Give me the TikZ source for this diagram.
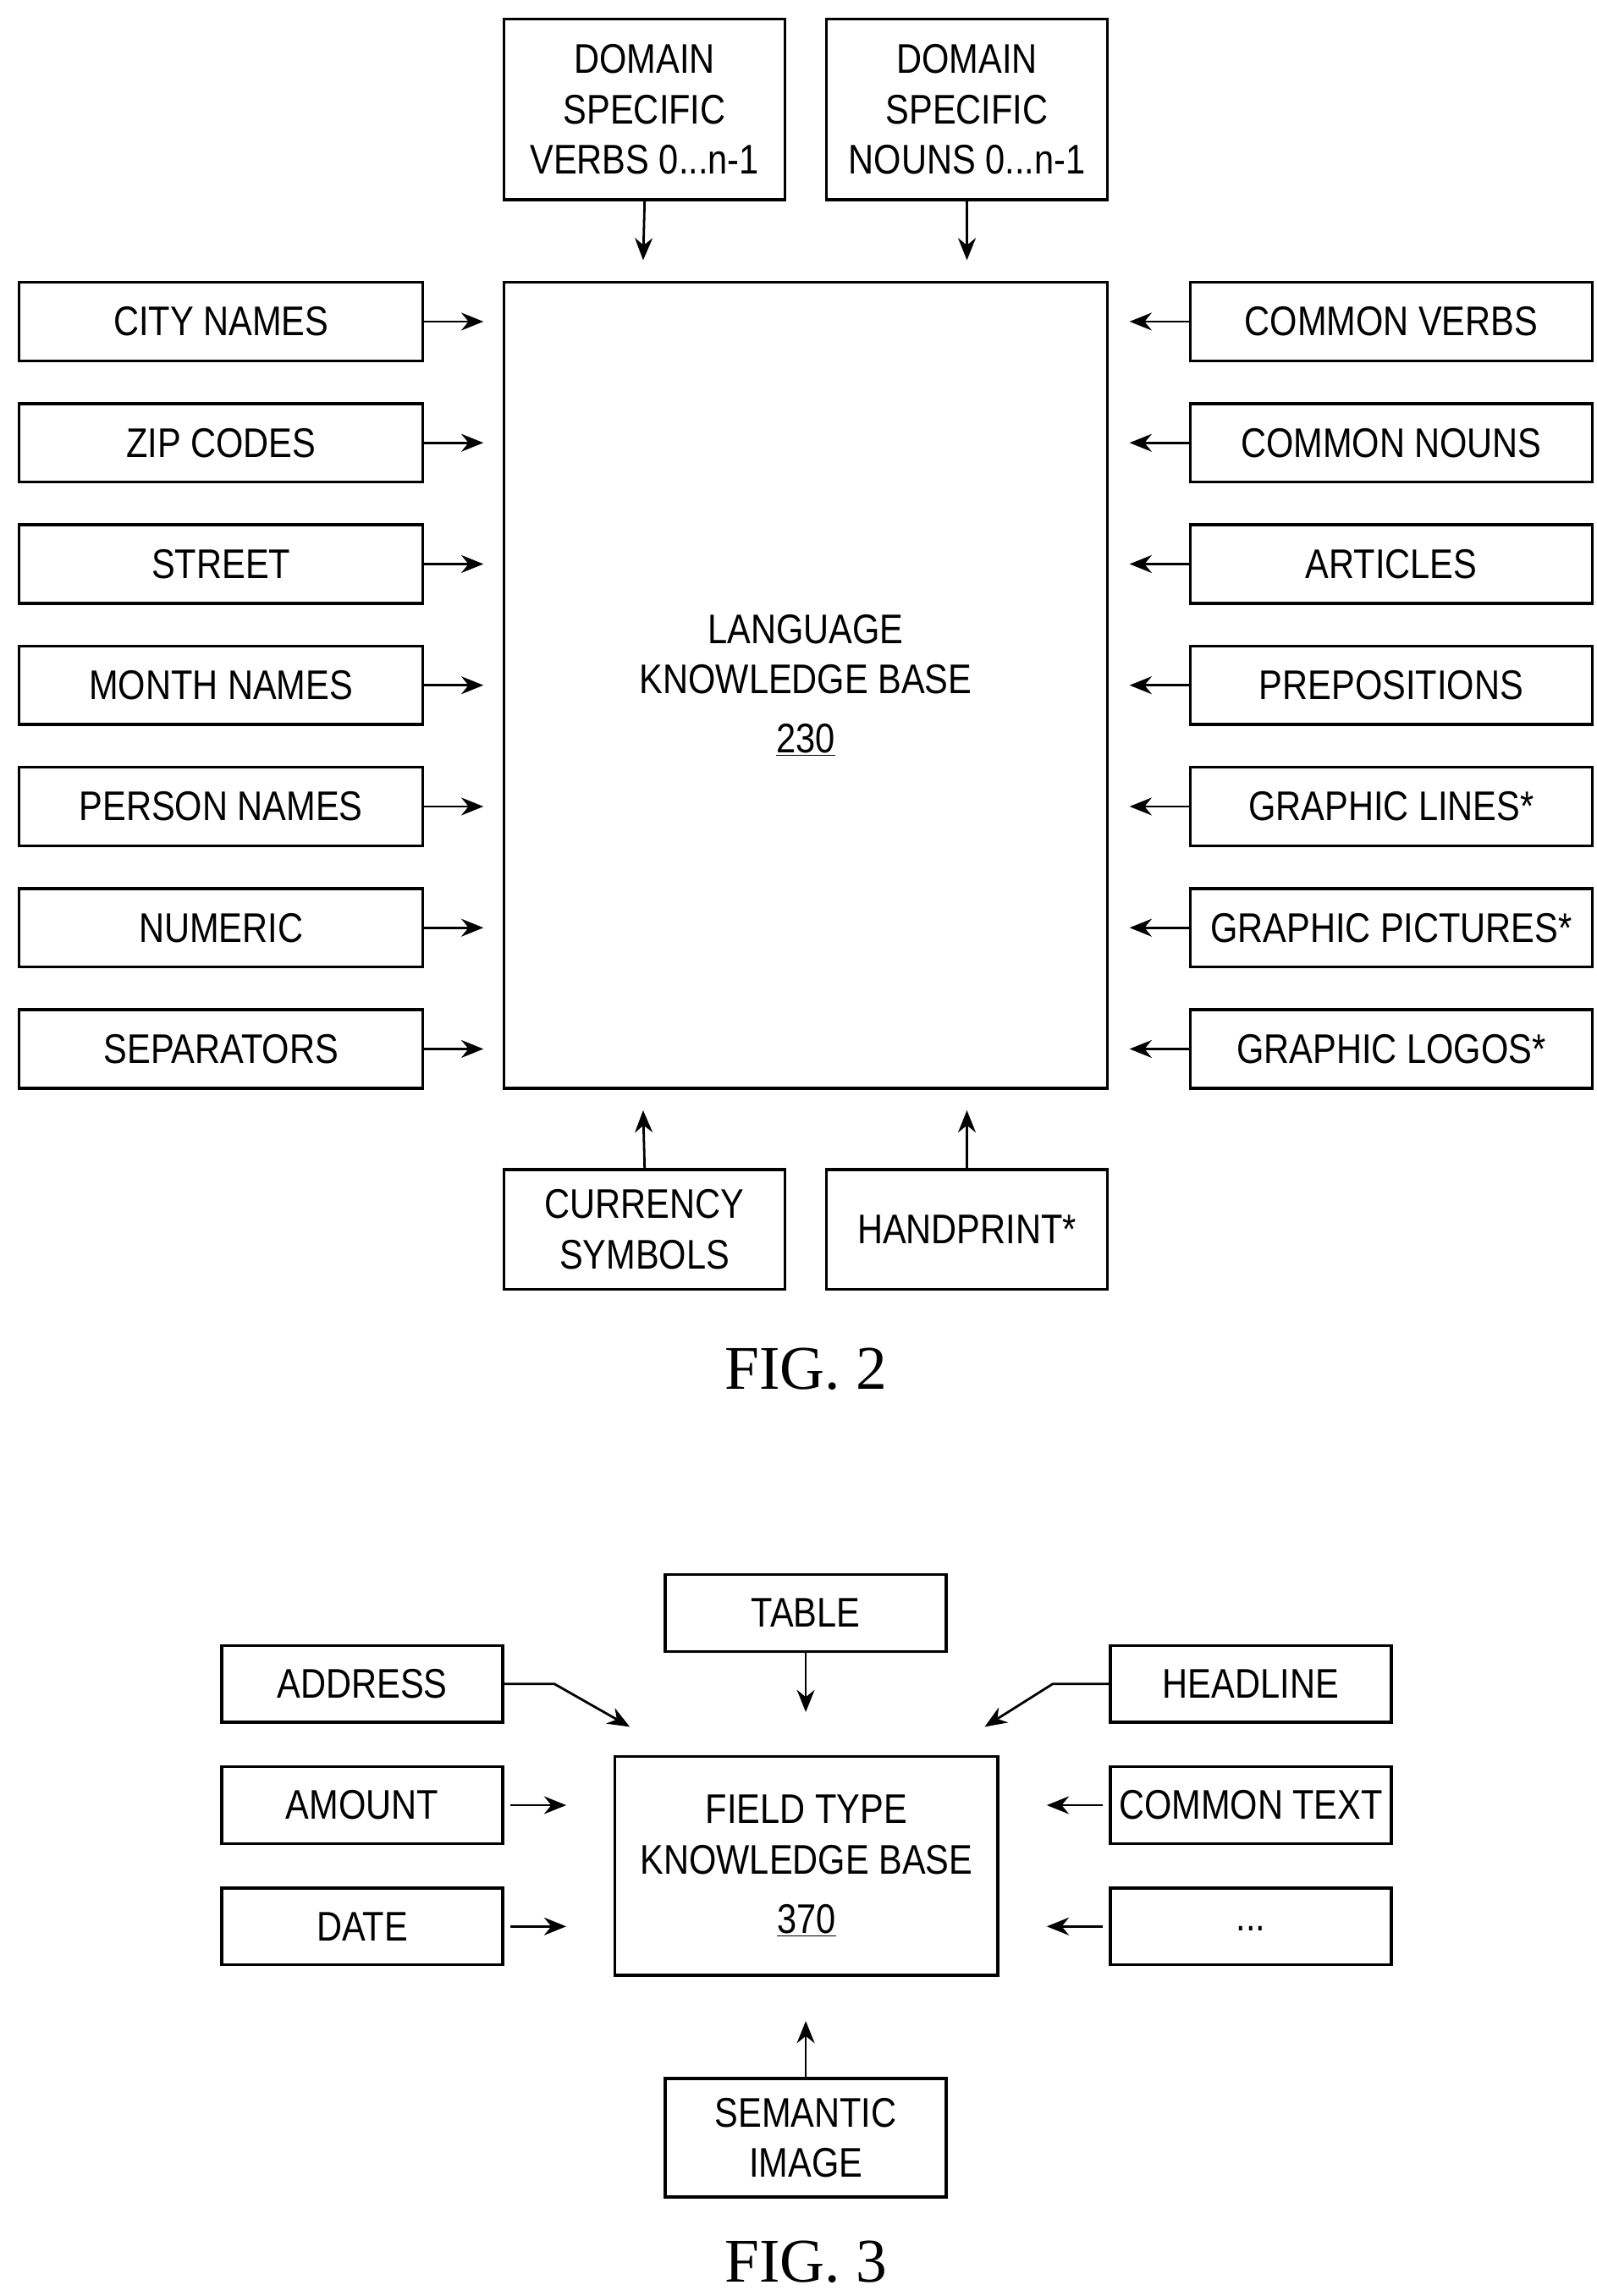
\documentclass[tikz,border=0pt]{standalone}
\usepackage{fontspec}
\setmainfont{Liberation Sans}[FakeStretch=0.85]
\newfontfamily\figfont{Liberation Serif}
\usetikzlibrary{arrows.meta}
\begin{document}
\begin{tikzpicture}[x=1pt,y=-1pt,
 box/.style={draw,line width=2pt,inner sep=0pt,align=center,font=\fontsize{28}{34}\selectfont},
 arr/.style={-{Stealth[length=15pt,width=12pt]},line width=1.6pt},
 fig/.style={font=\figfont\fontsize{42}{48}\selectfont}]
\useasboundingbox (0,0) rectangle (1080,1553);
\def\bx#1#2#3#4#5#6{\node[box,minimum width=#4-#2-2,minimum height=#5-#3-2] (#1) at ({(#2+#4)/2},{(#3+#5)/2}) {#6};}
% FIG 2
\bx{kb}{340}{190}{750}{737}{LANGUAGE\\KNOWLEDGE BASE\\[6pt]\underline{230}}
\bx{tv}{340}{12}{532}{136}{DOMAIN\\SPECIFIC\\VERBS 0...n-1}
\bx{tn}{558}{12}{750}{136}{DOMAIN\\SPECIFIC\\NOUNS 0...n-1}
\bx{bc}{340}{790}{532}{873}{CURRENCY\\SYMBOLS}
\bx{bh}{558}{790}{750}{873}{HANDPRINT*}
\foreach \n/\t [count=\i from 0] in {l0/CITY NAMES,l1/ZIP CODES,l2/STREET,l3/MONTH NAMES,l4/PERSON NAMES,l5/NUMERIC,l6/SEPARATORS}{
 \pgfmathsetmacro\yy{190+82*\i}
 \bx{\n}{12}{\yy}{287}{\yy+55}{\t}
 \coordinate (\n e) at (327,\yy+27.5);
 \draw[arr] (\n.east) -- (\n e);
}
\foreach \n/\t [count=\i from 0] in {r0/COMMON VERBS,r1/COMMON NOUNS,r2/ARTICLES,r3/PREPOSITIONS,r4/GRAPHIC LINES*,r5/GRAPHIC PICTURES*,r6/GRAPHIC LOGOS*}{
 \pgfmathsetmacro\yy{190+82*\i}
 \bx{\n}{804}{\yy}{1078}{\yy+55}{\t}
 \coordinate (\n e) at (764,\yy+27.5);
 \draw[arr] (\n.west) -- (\n e);
}
\coordinate (tva) at (435,176); \coordinate (tna) at (654,176);
\draw[arr] (tv.south) -- (tva);
\draw[arr] (tn.south) -- (tna);
\coordinate (bca) at (435,751); \coordinate (bha) at (654,751);
\draw[arr] (bc.north) -- (bca);
\draw[arr] (bh.north) -- (bha);
\node[fig] (f2) at (545,926) {FIG. 2};
% FIG 3
\bx{fk}{415}{1187}{676}{1337}{FIELD TYPE\\KNOWLEDGE BASE\\[6pt]\underline{370}}
\bx{ta}{449}{1064}{641}{1118}{TABLE}
\bx{se}{449}{1405}{641}{1487}{SEMANTIC\\IMAGE}
\bx{ad}{149}{1112}{341}{1166}{ADDRESS}
\bx{am}{149}{1194}{341}{1248}{AMOUNT}
\bx{da}{149}{1276}{341}{1330}{DATE}
\bx{hl}{750}{1112}{942}{1166}{HEADLINE}
\bx{ct}{750}{1194}{942}{1248}{COMMON TEXT}
\bx{dd}{750}{1276}{942}{1330}{\raisebox{-6pt}{...}}
\coordinate (taa) at (545,1158); \draw[arr] (ta.south) -- (taa);
\coordinate (sea) at (545,1367); \draw[arr] (se.north) -- (sea);
\coordinate (ad1) at (375,1139); \coordinate (ad2) at (426,1168);
\draw[arr] (ad.east) -- (ad1) -- (ad2);
\coordinate (hl1) at (712,1139); \coordinate (hl2) at (666,1168);
\draw[arr] (hl.west) -- (hl1) -- (hl2);
\coordinate (ama) at (383,1221); \draw[arr] ([xshift=4pt]am.east) -- (ama);
\coordinate (daa) at (383,1303); \draw[arr] ([xshift=4pt]da.east) -- (daa);
\coordinate (cta) at (708,1221); \draw[arr] ([xshift=-4pt]ct.west) -- (cta);
\coordinate (dda) at (708,1303); \draw[arr] ([xshift=-4pt]dd.west) -- (dda);
\node[fig] (f3) at (545,1530) {FIG. 3};
\end{tikzpicture}
\end{document}
